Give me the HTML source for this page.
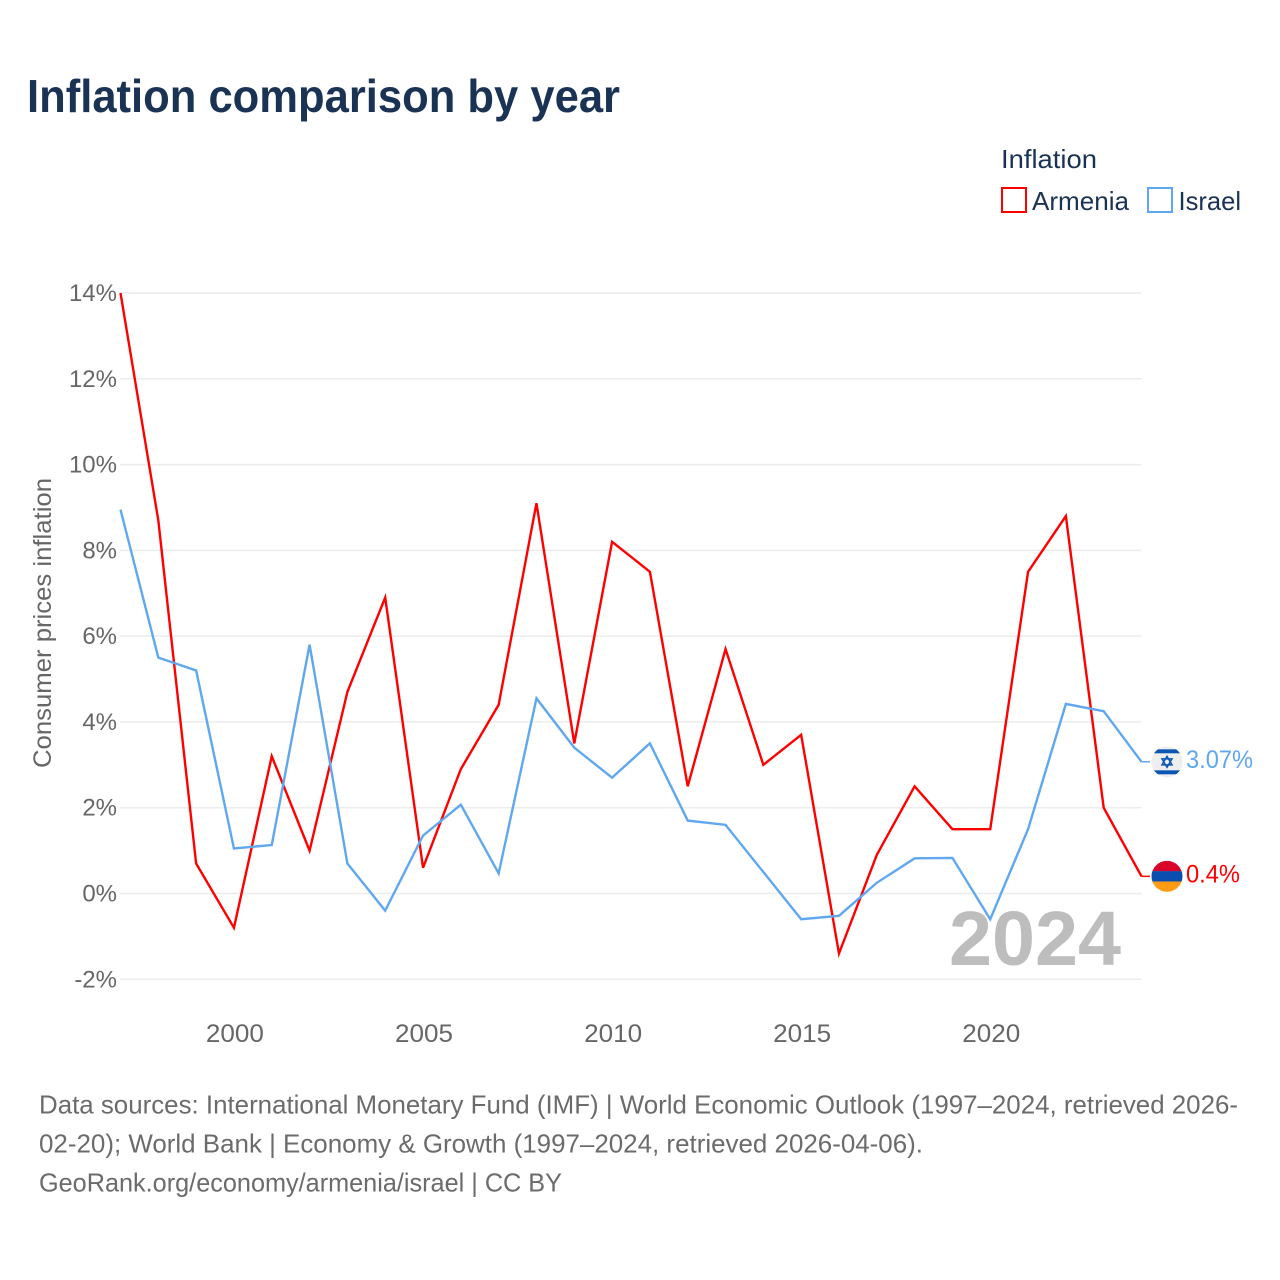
<!DOCTYPE html>
<html lang="en">
<head>
<meta charset="utf-8">
<title>Inflation comparison by year</title>
<style>
html,body{margin:0;padding:0;background:#fff;}
svg{display:block;font-family:"Liberation Sans",sans-serif;}
</style>
</head>
<body>
<svg id="chart" width="1280" height="1280" viewBox="0 0 1280 1280" xmlns="http://www.w3.org/2000/svg">
  <defs>
    <clipPath id="clip-il"><circle id="clip-il-c" cx="1167" cy="761.5" r="15.5"/></clipPath>
    <clipPath id="clip-am"><circle id="clip-am-c" cx="1167" cy="876" r="15.5"/></clipPath>
  </defs>
  <rect width="1280" height="1280" fill="#fff"/>
  <text x="27" y="112" font-size="46" font-weight="700" fill="#1a3354" textLength="593" lengthAdjust="spacingAndGlyphs">Inflation comparison by year</text>
  <g>
    <text x="1001" y="168" font-size="26" fill="#1a3354" textLength="96" lengthAdjust="spacingAndGlyphs">Inflation</text>
    <rect x="1002" y="188" width="24" height="24" fill="#fff" stroke="#ff0000" stroke-width="2"/>
    <text x="1032" y="210" font-size="26" fill="#1a3354" textLength="97" lengthAdjust="spacingAndGlyphs">Armenia</text>
    <rect x="1148" y="188" width="24" height="24" fill="#fff" stroke="#5fa8f0" stroke-width="2"/>
    <text x="1178.5" y="210" font-size="26" fill="#1a3354" textLength="62.5" lengthAdjust="spacingAndGlyphs">Israel</text>
  </g>
  <g id="grid"></g>
  <g id="y-ticks"></g>
  <g id="x-ticks"></g>
  <text transform="translate(51,768) rotate(-90)" font-size="25" fill="#666666" textLength="290" lengthAdjust="spacingAndGlyphs">Consumer prices inflation</text>
  <text id="year-watermark" x="1121" y="965" text-anchor="end" font-size="77" font-weight="700" fill="#bdbdbd" textLength="172" lengthAdjust="spacingAndGlyphs">2024</text>
  <g id="series"></g>
  <g id="end-markers"></g>
  <g font-size="26" fill="#6b6b6b">
    <text x="39" y="1113.5" textLength="1199" lengthAdjust="spacingAndGlyphs">Data sources: International Monetary Fund (IMF) | World Economic Outlook (1997–2024, retrieved 2026-</text>
    <text x="39" y="1152.5" textLength="884" lengthAdjust="spacingAndGlyphs">02-20); World Bank | Economy &amp; Growth (1997–2024, retrieved 2026-04-06).</text>
    <text x="39" y="1191.5" textLength="523" lengthAdjust="spacingAndGlyphs">GeoRank.org/economy/armenia/israel | CC BY</text>
  </g>
</svg>
<script>
const years = [1997,1998,1999,2000,2001,2002,2003,2004,2005,2006,2007,2008,2009,2010,2011,2012,2013,2014,2015,2016,2017,2018,2019,2020,2021,2022,2023,2024];
const armenia = [14,8.7,0.7,-0.8,3.2,1.0,4.7,6.9,0.6,2.9,4.4,9.1,3.5,8.2,7.5,2.5,5.7,3.0,3.7,-1.4,0.9,2.5,1.5,1.5,7.5,8.8,2.0,0.4];
const israel = [8.95,5.5,5.2,1.05,1.13,5.8,0.7,-0.4,1.35,2.07,0.47,4.55,3.4,2.7,3.5,1.7,1.6,0.5,-0.6,-0.52,0.25,0.82,0.83,-0.6,1.5,4.42,4.25,3.07];
const yTicks = [14,12,10,8,6,4,2,0,-2];
const xTicks = [2000,2005,2010,2015,2020];
const armeniaLabel = "0.4%";
const israelLabel = "3.07%";

const NS = "http://www.w3.org/2000/svg";
const xScale = v => 120.5 + (v - 1997) * (1141.5 - 120.5) / (2024 - 1997);
const yScale = v => 893.5 - v * (893.5 - 293) / 14;
function make(tag, attrs, parent, text) {
  const el = document.createElementNS(NS, tag);
  for (const k in attrs) el.setAttribute(k, attrs[k]);
  if (text !== undefined) el.textContent = text;
  parent.appendChild(el);
  return el;
}
const gridG = document.getElementById('grid');
const yG = document.getElementById('y-ticks');
const xG = document.getElementById('x-ticks');
const seriesG = document.getElementById('series');
const endG = document.getElementById('end-markers');

yTicks.forEach(t => {
  const line = make('line', {x1:120, x2:1141.5, y1:yScale(t), y2:yScale(t), stroke:'#ececec', 'stroke-width':1.5}, gridG);
  
  
  const label = make('text', {x:117, y:yScale(t)+8, 'text-anchor':'end', 'font-size':24, fill:'#666666'}, yG, t + '%');
  
  
});
xTicks.forEach(t => {
  const label = make('text', {x:xScale(t)+1, y:1042, 'text-anchor':'middle', 'font-size':25, fill:'#666666', textLength:58, lengthAdjust:'spacingAndGlyphs'}, xG, String(t));
  
  
});
function pathFor(values) {
  return values.map((v, i) => (i ? 'L' : 'M') + xScale(years[i]).toFixed(2) + ' ' + yScale(v).toFixed(2)).join(' ');
}
const armeniaLine = make('path', {d:pathFor(armenia), fill:'none', stroke:'#ff0000', 'stroke-width':2.4, 'stroke-linejoin':'miter'}, seriesG);


const israelLine = make('path', {d:pathFor(israel), fill:'none', stroke:'#5fa8f0', 'stroke-width':2.4, 'stroke-linejoin':'miter'}, seriesG);



const lastX = xScale(years[years.length - 1]);
const cx = 1167;
const yIl = yScale(israel[israel.length - 1]);
const yAm = yScale(armenia[armenia.length - 1]);

const ilConn = make('line', {x1:lastX, x2:1150, y1:yIl, y2:yIl, stroke:'#5fa8f0', 'stroke-width':1.5}, endG);


const amConn = make('line', {x1:lastX, x2:1150, y1:yAm, y2:yAm, stroke:'#ff0000', 'stroke-width':1.5}, endG);



// Israel flag
document.getElementById('clip-il-c').setAttribute('cy', yIl);
const ilFlag = make('g', {'clip-path':'url(#clip-il)'}, endG);


make('rect', {x:cx-16, y:yIl-16, width:32, height:32, fill:'#eeeeee'}, ilFlag);
make('rect', {x:cx-16, y:yIl-12.5, width:32, height:4, fill:'#0b55b5'}, ilFlag);
make('rect', {x:cx-16, y:yIl+8.5, width:32, height:4, fill:'#0b55b5'}, ilFlag);
make('path', {d:`M${cx} ${yIl-5.5} L${cx+5} ${yIl+3} L${cx-5} ${yIl+3} Z M${cx} ${yIl+5.5} L${cx+5} ${yIl-3} L${cx-5} ${yIl-3} Z`, fill:'none', stroke:'#0b55b5', 'stroke-width':1.5}, ilFlag);

// Armenia flag
document.getElementById('clip-am-c').setAttribute('cy', yAm);
const amFlag = make('g', {'clip-path':'url(#clip-am)'}, endG);


make('rect', {x:cx-16, y:yAm-16, width:32, height:11, fill:'#d90429'}, amFlag);
make('rect', {x:cx-16, y:yAm-5.2, width:32, height:10.4, fill:'#0a4fb0'}, amFlag);
make('rect', {x:cx-16, y:yAm+5.2, width:32, height:11, fill:'#ff9b15'}, amFlag);

const ilText = make('text', {x:1186, y:yIl+6, 'font-size':25, fill:'#5fa8f0', textLength:67, lengthAdjust:'spacingAndGlyphs'}, endG, israelLabel);


const amText = make('text', {x:1186, y:yAm+6, 'font-size':25, fill:'#ff0000', textLength:54, lengthAdjust:'spacingAndGlyphs'}, endG, armeniaLabel);


</script>
</body>
</html>
